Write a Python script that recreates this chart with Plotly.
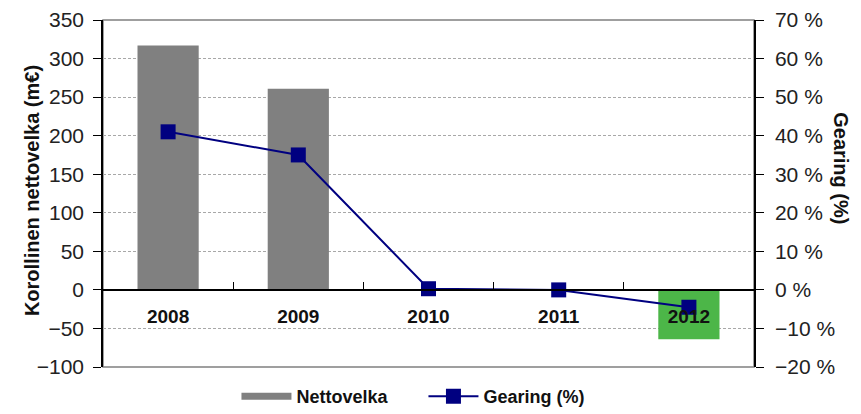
import plotly.graph_objects as go

years = ["2008", "2009", "2010", "2011", "2012"]
nettovelka = [317, 261, 0, 0, -64]
gearing = [41, 35, 0.3, 0, -4.5]
bar_colors = ["#808080", "#808080", "#808080", "#808080", "#4cb648"]

font = "Liberation Sans, Arial, sans-serif"

fig = go.Figure()
fig.add_trace(go.Bar(
    x=years, y=nettovelka, name="Nettovelka",
    marker=dict(color=bar_colors, line=dict(width=0)),
    width=0.47, showlegend=False,
))
# legend entry drawn as a thick line, like the original
fig.add_trace(go.Scatter(
    x=[None], y=[None], name="Nettovelka", mode="lines",
    line=dict(color="#808080", width=7),
))
fig.add_trace(go.Scatter(
    x=years, y=gearing, name="Gearing (%)", yaxis="y2",
    mode="lines+markers",
    line=dict(color="#000080", width=2),
    marker=dict(symbol="square", size=15, color="#000080"),
))

title_font = dict(family=font, size=20, weight="bold", color="#111")

# page body adds an 8px offset, so the figure is sized to fit the window
fig.update_layout(
    width=853, height=406,
    margin=dict(l=95, r=107, t=12, b=47, autoexpand=False),
    plot_bgcolor="white", paper_bgcolor="white",
    font=dict(family=font, size=21, color="#222"),
    showlegend=True,
    legend=dict(orientation="h", x=0.205, xanchor="left", y=-0.085, yanchor="middle",
                font=dict(size=18, weight="bold", color="#111"), traceorder="normal",
                itemwidth=50, entrywidth=122),
    xaxis=dict(
        anchor="free", position=100 / 450, automargin=False,
        showline=True, linecolor="black", linewidth=1.5,
        ticks="inside", ticklen=7, tickcolor="black", tickson="boundaries",
        tickfont=dict(size=19, weight="bold", color="#111"),
        ticklabelstandoff=10,
        showgrid=False, zeroline=False,
    ),
    yaxis=dict(
        range=[-100, 350], dtick=50, automargin=False,
        showline=True, linecolor="black", linewidth=1.5,
        ticks="outside", ticklen=8, tickcolor="black", ticklabelstandoff=5,
        showgrid=True, gridcolor="#a8a8a8", griddash="3px,2px", gridwidth=1,
        zeroline=False,
    ),
    yaxis2=dict(
        range=[-20, 70], dtick=10, ticksuffix=" %", automargin=False,
        overlaying="y", side="right",
        showline=True, linecolor="black", linewidth=1.5,
        ticks="outside", ticklen=8, tickcolor="black", ticklabelstandoff=7,
        showgrid=False, zeroline=False,
    ),
    annotations=[
        dict(text="Korollinen nettovelka (m€)", xref="paper", yref="paper",
             x=-0.109, y=0.507, xanchor="center", yanchor="middle",
             textangle=-90, showarrow=False, font=title_font),
        dict(text="Gearing (%)", xref="paper", yref="paper",
             x=1.1336, y=0.573, xanchor="center", yanchor="middle",
             textangle=90, showarrow=False, font=title_font),
    ],
    shapes=[dict(type="rect", xref="paper", yref="paper", x0=0, x1=1, y0=0, y1=1,
                 line=dict(color="#808080", width=1.5), layer="below")],
)

fig.write_html("out.html")
